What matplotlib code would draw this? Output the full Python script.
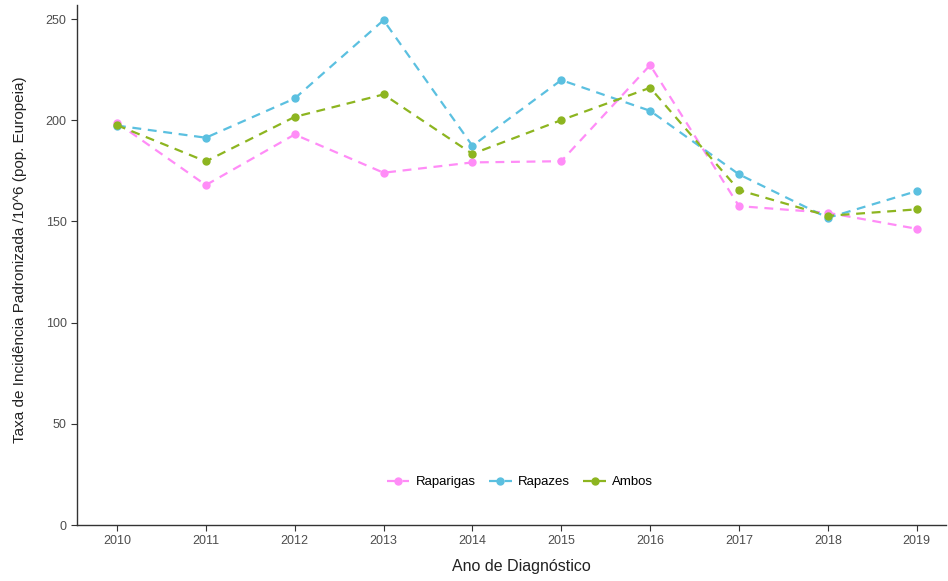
import matplotlib

matplotlib.use("Agg")
import matplotlib.pyplot as plt

plt.rcParams["font.family"] = ["Liberation Sans", "DejaVu Sans"]

# values
years = [2010, 2011, 2012, 2013, 2014, 2015, 2016, 2017, 2018, 2019]
raparigas = [198.8, 168.0, 193.0, 174.1, 179.2, 179.8, 227.3, 157.6, 154.3, 146.4]
rapazes = [197.4, 191.4, 210.8, 249.5, 187.4, 219.9, 204.7, 173.3, 151.8, 165.0]
ambos = [197.6, 179.7, 201.7, 212.8, 183.4, 200.1, 216.1, 165.5, 152.8, 156.0]

series_names = ["Raparigas", "Rapazes", "Ambos"]
series_colors = ["#FF8CF7", "#5BC0E0", "#8DB520"]
y_ticks = [0, 50, 100, 150, 200, 250]

fig = plt.figure(figsize=(9.48, 5.81), dpi=100)
ax = fig.add_axes([77 / 948, 56 / 581, 869 / 948, 520 / 581])

for vals, name, col in zip([raparigas, rapazes, ambos], series_names, series_colors):
    ax.plot(years, vals, linestyle=(0, (4, 3)), linewidth=1.6, color=col,
            marker="o", markersize=5, label=name)

ax.set_xlim(2009.55, 2019.33)
ax.set_ylim(0, 257)
ax.set_xticks(years)
ax.set_yticks(y_ticks)

for side in ["top", "right"]:
    ax.spines[side].set_visible(False)
for side in ["left", "bottom"]:
    ax.spines[side].set_color("#333333")
    ax.spines[side].set_linewidth(1.0)
ax.tick_params(axis="both", direction="out", length=4, width=0.8,
               color="#333333", labelcolor="#4d4d4d", labelsize=9)

fig.text(521 / 948, 1 - 567 / 581, "Ano de Diagnóstico", ha="center",
         va="center", fontsize=11.5, color="#222222")
ax.set_ylabel("Taxa de Incidência Padronizada /10^6 (pop. Europeia)",
              fontsize=11, color="#222222")
ax.yaxis.set_label_coords(-0.058, 0.51)

ax.legend(loc="center", bbox_to_anchor=(0.51, (581 - 482 - 56) / 520), ncol=3,
          frameon=False, fontsize=9.5, handlelength=1.7, columnspacing=1.0,
          handletextpad=0.5)

fig.savefig("out.png", dpi=100)
plt.close(fig)
